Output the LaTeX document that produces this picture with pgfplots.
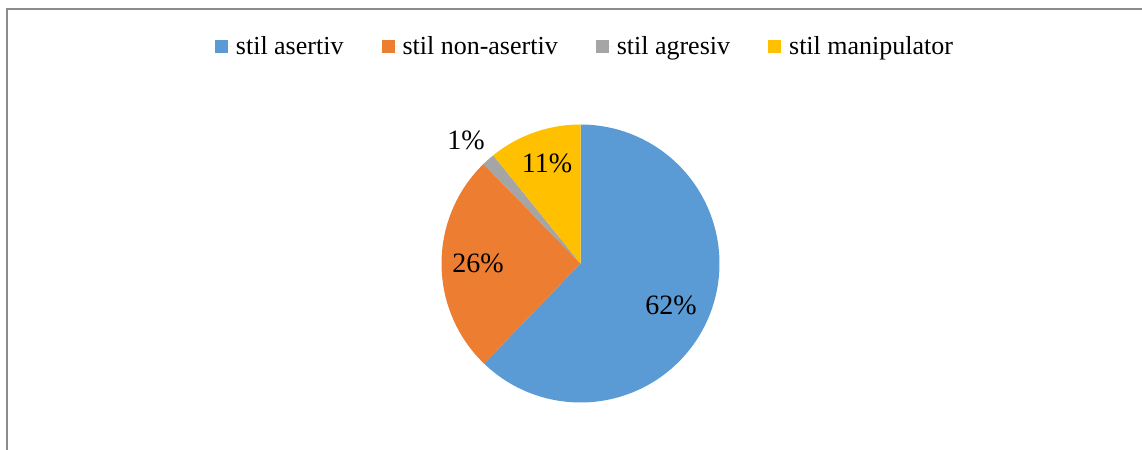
\documentclass[border=0pt]{standalone}
\usepackage{fontspec}
\setmainfont{Liberation Serif}
\usepackage{pgfplots}
\pgfplotsset{compat=1.18}
\definecolor{cblue}{HTML}{5B9BD5}
\definecolor{corange}{HTML}{ED7D31}
\definecolor{cgray}{HTML}{A5A5A5}
\definecolor{cyellow}{HTML}{FFC000}
\definecolor{cframe}{HTML}{8C8C8C}
\begin{document}
\begin{tikzpicture}
\begin{axis}[
  scale only axis, width=571pt, height=225pt,
  xmin=0, xmax=1142, ymin=0, ymax=450,
  hide axis, clip=false,
  legend columns=4,
  legend style={at={(axis cs:586,403)}, anchor=center, draw=none, fill=none,
    font=\fontsize{13}{15}\selectfont, inner sep=0pt,
    /tikz/every even column/.append style={column sep=17pt}},
  legend image code/.code={\path[#1,draw=none] (0pt,-3pt) rectangle (6.5pt,3.5pt); \path (0pt,0pt) -- (8.5pt,0pt);},
]
% pie slices: percentages 62.2, 25.5, 1.5, 10.8, starting at 12 o'clock, clockwise
\addplot[fill=cblue, draw=none, domain={90-3.6*62.2}:90, samples=120, variable=\t]
  ({580.5+139*cos(\t)},{186.5+139*sin(\t)}) -- (axis cs:580.5,186.5) -- cycle;
\addplot[fill=corange, draw=none, domain={90-3.6*(62.2+25.5)}:{90-3.6*62.2}, samples=60, variable=\t]
  ({580.5+139*cos(\t)},{186.5+139*sin(\t)}) -- (axis cs:580.5,186.5) -- cycle;
\addplot[fill=cgray, draw=none, domain={90-3.6*(62.2+25.5+1.5)}:{90-3.6*(62.2+25.5)}, samples=10, variable=\t]
  ({580.5+139*cos(\t)},{186.5+139*sin(\t)}) -- (axis cs:580.5,186.5) -- cycle;
\addplot[fill=cyellow, draw=none, domain=-270:{90-3.6*(62.2+25.5+1.5)}, samples=30, variable=\t]
  ({580.5+139*cos(\t)},{186.5+139*sin(\t)}) -- (axis cs:580.5,186.5) -- cycle;
\legend{stil asertiv, stil non-asertiv, stil agresiv, stil manipulator}
% data labels
\addplot[forget plot, only marks, mark=none, point meta=explicit symbolic,
  nodes near coords, every node near coord/.append style={anchor=center, inner sep=0pt,
  font=\fontsize{14}{16}\selectfont, text=black}]
  table[meta=lab] {
  x y lab
  671 145 62\%
  478 187 26\%
  547 287 11\%
  466 310 1\%
  };
% chart frame
\addplot[forget plot, cframe, line width=1pt] coordinates {(7,0) (7,441) (1142,441)};
\end{axis}
\pgfresetboundingbox
\useasboundingbox (0,0) rectangle (571pt,225pt);
\end{tikzpicture}
\end{document}
